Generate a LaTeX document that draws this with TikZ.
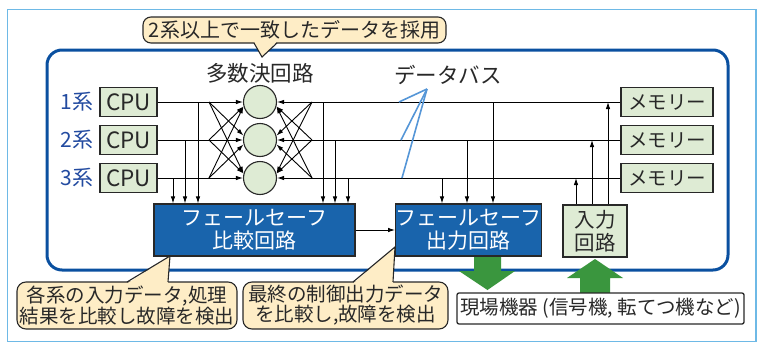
\documentclass[tikz,border=0pt]{standalone}
\usepackage{fontspec}
\setmainfont{Noto Sans CJK JP}
\usetikzlibrary{positioning,arrows.meta}
\definecolor{frameblue}{RGB}{110,185,230}
\definecolor{mainblue}{RGB}{10,80,160}
\definecolor{fsblue}{RGB}{25,100,172}
\definecolor{boxgreen}{RGB}{222,235,212}
\definecolor{callbeige}{RGB}{254,237,198}
\definecolor{arrowgreen}{RGB}{58,150,62}
\definecolor{labelblue}{RGB}{35,75,160}
\definecolor{pointblue}{RGB}{85,150,215}
\definecolor{ink}{RGB}{40,40,40}
\tikzset{
  unit/.style={draw=ink,fill=boxgreen,line width=1.1pt,inner sep=0pt,text=ink},
  cpubox/.style={unit,minimum width=57pt,minimum height=29pt,font=\fontsize{22.5}{22}\selectfont},
  membox/.style={unit,minimum width=92pt,minimum height=29pt,font=\fontsize{19.5}{20}\selectfont},
  voter/.style={unit,circle,minimum size=33pt},
  fsbox/.style={draw=ink,fill=fsblue,line width=1.1pt,text=white,inner sep=0pt,minimum height=52pt,align=center,font=\fontsize{21}{23}\selectfont},
  callout/.style={draw=ink,fill=callbeige,line width=1.1pt,rounded corners=9pt,align=center,inner sep=0pt,text=ink},
  sysname/.style={text=labelblue,font=\fontsize{21}{21}\selectfont,inner sep=0pt},
  bus/.style={line width=0.9pt,black},
  tap/.style={bus,-{Latex[length=7pt,width=4.5pt]}},
}
\begin{document}
\begin{tikzpicture}[x=1pt,y=-1pt]
    \useasboundingbox (0,0) rectangle (758,343);
    %% Frame
    \draw[frameblue,line width=1.2pt] (7.5,9.5) rectangle (756,341.5);
    %% System board
    \draw[mainblue,line width=3pt,rounded corners=15pt] (47,50) rectangle (728,270);
    %% CPUs, voters, memories
    \foreach \i/\y in {1/102,2/140,3/178}{
        \node[cpubox] (CPU\i) at (128.5,\y) {CPU};
        \node[sysname,left=6pt of CPU\i] (sys\i) {\i 系};
        \node[voter] (V\i) at (260,\y) {};
        \node[membox] (M\i) at (667,\y) {メモリー};
        \draw[tap] (CPU\i) -- (V\i);
        \draw[tap] (M\i) -- (V\i);
    }
    \node[font=\fontsize{21.5}{22}\selectfont,text=ink] (vname) at (260,73) {多数決回路};
    %% Cross links into the voters
    \foreach \i/\j/\a/\b in {1/2/165/15,1/3/165/15,2/1/195/345,2/3/165/15,3/1/195/345,3/2/195/345}{
        \draw[tap] (209,0 |- V\i) -- (V\j.\a);
        \draw[tap] (312,0 |- V\i) -- (V\j.\b);
    }
    %% Fail-safe circuits
    \node[fsbox,minimum width=201pt] (Cmp) at (254.5,230) {フェールセーフ\\比較回路};
    \node[fsbox,minimum width=145pt] (Out) at (468.5,230) {フェールセーフ\\出力回路};
    \node[unit,minimum width=64pt,minimum height=52pt,align=center,font=\fontsize{20.5}{23}\selectfont] (In) at (595,231) {入力\\回路};
    \foreach \x/\i in {198/1,185/2,173/3,323/1,335/2,348/3}
        \draw[tap] (\x,0 |- V\i) -- (\x,0 |- Cmp.north);
    \foreach \x/\i in {493/1,467/2,442/3}
        \draw[tap] (\x,0 |- V\i) -- (\x,0 |- Out.north);
    \foreach \x/\i in {608/1,592/2,576/3}
        \draw[tap] (\x,0 |- In.north) -- (\x,0 |- V\i);
    \draw[tap] (Cmp) -- (Out);
    %% Data bus label
    \node[font=\fontsize{21.5}{22}\selectfont,text=ink] (busname) at (448,75) {データバス};
    \coordinate (busapex) at (427,89);
    \foreach \i/\x in {1/399,2/401,3/402}
        \draw[pointblue,line width=1.6pt] (busapex) -- (\x,0 |- V\i);
    %% Field equipment
    \fill[arrowgreen] (474,257) -- (501,257) -- (501,271) -- (515,271) -- (487.5,290) -- (459,271) -- (474,271) -- cycle;
    \fill[arrowgreen] (580,293) -- (610,293) -- (610,278) -- (623,278) -- (595,259) -- (567,278) -- (580,278) -- cycle;
    \node[draw=ink,fill=white,line width=1.3pt,rounded corners=2pt,minimum width=287pt,minimum height=31pt,inner sep=0pt,
        font=\fontsize{19.5}{20}\selectfont,text=ink] (field) at (600.5,308.5) {現場機器 (信号機, 転てつ機など)};
    %% Callouts
    \node[callout,rounded corners=8pt,minimum width=303pt,minimum height=26pt,font=\fontsize{20}{20}\selectfont] (votenote) at (294.5,30) {2系以上で一致したデータを採用};
    \fill[callbeige] (254,41.5) -- (262,57) -- (277,41.5) -- cycle;
    \draw[ink,line width=1.1pt] (254,43) -- (262,57) -- (277,43);
    \node[callout,minimum width=220pt,minimum height=47pt,font=\fontsize{19.5}{20}\selectfont] (cmpnote) at (127,305.5) {各系の入力データ,処理\\結果を比較し故障を検出};
    \fill[callbeige] (127,283.5) -- (170,256) -- (168,283.5) -- cycle;
    \draw[ink,line width=1.1pt] (127,282) -- (170,256) -- (168,282);
    \node[callout,minimum width=205pt,minimum height=47pt,font=\fontsize{19.5}{20}\selectfont] (outnote) at (345.5,305.5) {最終の制御出力データ\\を比較し,故障を検出};
    \fill[callbeige] (353,283.5) -- (395,247) -- (393,283.5) -- cycle;
    \draw[ink,line width=1.1pt] (353,282) -- (395,247) -- (393,282);
\end{tikzpicture}
\end{document}
